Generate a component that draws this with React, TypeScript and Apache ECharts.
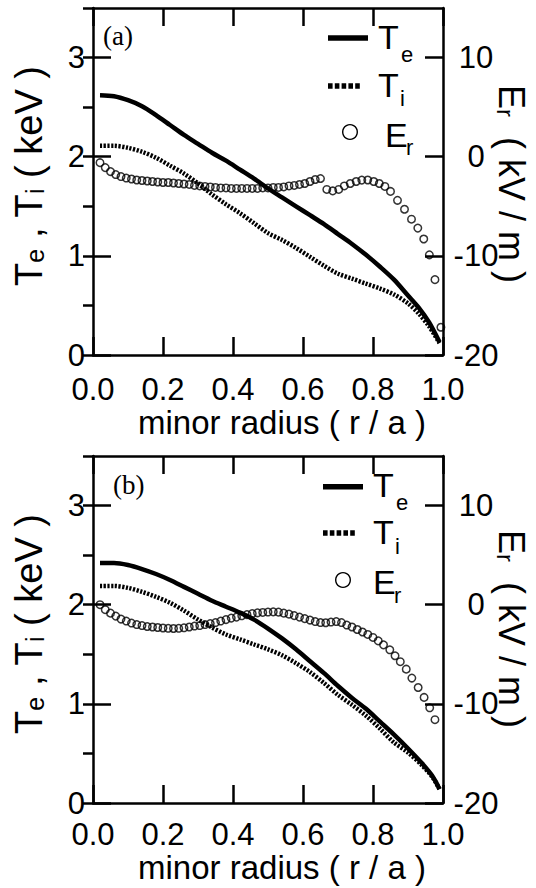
import React, { useEffect, useRef } from "react";
import * as echarts from "echarts";

const SANS = "Liberation Sans, Arial, Helvetica, sans-serif";
const SERIF = "Liberation Serif, Times New Roman, serif";

// ---------- Panel (a) ----------
const rTA = [0.02, 0.06, 0.1, 0.14, 0.18, 0.22, 0.26, 0.3, 0.34, 0.38, 0.42, 0.46, 0.5, 0.54, 0.58, 0.62, 0.66, 0.7, 0.74, 0.78, 0.82, 0.86, 0.9, 0.93, 0.96, 0.99];
const teA = [2.62, 2.61, 2.57, 2.51, 2.42, 2.32, 2.22, 2.13, 2.04, 1.96, 1.87, 1.78, 1.68, 1.59, 1.5, 1.41, 1.32, 1.22, 1.12, 1.01, 0.89, 0.76, 0.6, 0.48, 0.33, 0.13];
const tiA = [2.11, 2.11, 2.09, 2.05, 1.99, 1.91, 1.83, 1.73, 1.62, 1.52, 1.43, 1.33, 1.23, 1.16, 1.08, 0.99, 0.9, 0.82, 0.77, 0.72, 0.67, 0.61, 0.52, 0.42, 0.29, 0.12];
const rErA = [0.02, 0.035, 0.05, 0.065, 0.08, 0.095, 0.11, 0.125, 0.14, 0.155, 0.17, 0.185, 0.2, 0.215, 0.23, 0.245, 0.26, 0.275, 0.29, 0.305, 0.32, 0.335, 0.35, 0.365, 0.38, 0.395, 0.41, 0.425, 0.44, 0.455, 0.47, 0.485, 0.5, 0.515, 0.53, 0.545, 0.56, 0.575, 0.59, 0.605, 0.62, 0.635, 0.65, 0.668, 0.685, 0.702, 0.718, 0.735, 0.752, 0.768, 0.785, 0.802, 0.818, 0.834, 0.85, 0.87, 0.89, 0.91, 0.928, 0.945, 0.961, 0.977, 0.994];
const erA = [-0.6, -1.1, -1.5, -1.8, -2.0, -2.15, -2.25, -2.35, -2.4, -2.45, -2.5, -2.55, -2.6, -2.6, -2.65, -2.7, -2.75, -2.8, -2.9, -2.95, -3.0, -3.05, -3.1, -3.15, -3.15, -3.2, -3.2, -3.2, -3.2, -3.2, -3.2, -3.15, -3.15, -3.1, -3.1, -3.05, -2.95, -2.9, -2.8, -2.7, -2.5, -2.3, -2.2, -3.3, -3.45, -3.3, -2.95, -2.7, -2.5, -2.36, -2.35, -2.5, -2.7, -3.0, -3.5, -4.4, -5.3, -6.3, -7.2, -8.3, -9.9, -12.4, -17.2];

// ---------- Panel (b) ----------
const rTB = [0.02, 0.06, 0.1, 0.14, 0.18, 0.22, 0.26, 0.3, 0.34, 0.38, 0.42, 0.46, 0.5, 0.54, 0.58, 0.62, 0.66, 0.7, 0.74, 0.78, 0.82, 0.86, 0.9, 0.94, 0.97, 0.99];
const teB = [2.42, 2.42, 2.4, 2.36, 2.31, 2.25, 2.18, 2.11, 2.04, 1.98, 1.92, 1.85, 1.76, 1.66, 1.55, 1.43, 1.31, 1.18, 1.06, 0.95, 0.82, 0.69, 0.55, 0.4, 0.27, 0.14];
const tiB = [2.19, 2.19, 2.17, 2.13, 2.08, 2.02, 1.94, 1.85, 1.77, 1.7, 1.65, 1.6, 1.55, 1.49, 1.41, 1.32, 1.21, 1.09, 0.99, 0.88, 0.75, 0.61, 0.51, 0.38, 0.26, 0.14];
const rErB = [0.02, 0.035, 0.05, 0.065, 0.08, 0.095, 0.11, 0.125, 0.14, 0.155, 0.17, 0.185, 0.2, 0.215, 0.23, 0.245, 0.26, 0.275, 0.29, 0.305, 0.32, 0.335, 0.35, 0.365, 0.38, 0.395, 0.41, 0.425, 0.44, 0.455, 0.47, 0.485, 0.5, 0.515, 0.53, 0.545, 0.56, 0.575, 0.59, 0.605, 0.62, 0.635, 0.65, 0.665, 0.68, 0.695, 0.71, 0.725, 0.74, 0.755, 0.77, 0.785, 0.8, 0.815, 0.83, 0.848, 0.863, 0.878, 0.895, 0.911, 0.929, 0.946, 0.962, 0.977];
const erB = [0.0, -0.5, -0.85, -1.15, -1.45, -1.65, -1.85, -2.0, -2.1, -2.2, -2.25, -2.3, -2.35, -2.38, -2.4, -2.38, -2.33, -2.25, -2.15, -2.1, -2.0, -1.9, -1.8, -1.65, -1.5, -1.35, -1.25, -1.12, -1.0, -0.9, -0.82, -0.78, -0.74, -0.72, -0.75, -0.85, -0.95, -1.1, -1.25, -1.4, -1.55, -1.7, -1.8, -1.82, -1.75, -1.7, -1.8, -2.05, -2.25, -2.5, -2.75, -3.0, -3.3, -3.65, -4.05, -4.55, -5.15, -5.75, -6.5, -7.4, -8.35, -9.35, -10.4, -11.6];

// ---------- Axes ----------
const xTickStep = 0.2;
const leftRange = [0, 3.5];
const rightRange = [-20, 15];

const GRID_TOPS = [8, 456];
const PLOT_LEFT = 93;
const PLOT_W = 350;
const PLOT_H = 347;

const pairs = (xs: number[], ys: number[]) => xs.map((x, i) => [x, ys[i]]);

const BLACK = "#000";
const axisLine = { show: true, onZero: false, lineStyle: { color: BLACK, width: 2.5 } };
const tickStyle = { color: BLACK, width: 2.5 };
const TICK_FONT = 31;

export default function App() {
  const ref = useRef<HTMLDivElement>(null);
  useEffect(() => {
    document.body.style.margin = "0";
    const chart = echarts.init(ref.current!, null, { renderer: "svg" });

    const grids: any[] = [];
    const xAxes: any[] = [];
    const yAxes: any[] = [];
    GRID_TOPS.forEach((top) => grids.push({ left: PLOT_LEFT, top, width: PLOT_W, height: PLOT_H, containLabel: false }));
    GRID_TOPS.forEach((top) => grids.push({ left: PLOT_LEFT, top, width: PLOT_W, height: PLOT_H, containLabel: false }));

    [0, 1].forEach((g) => {
      xAxes.push({
        type: "value", gridIndex: g, position: "bottom", min: 0, max: 1, interval: xTickStep,
        axisLine, axisTick: { show: true, inside: true, length: 18, lineStyle: tickStyle },
        axisLabel: { show: true, margin: g === 0 ? 22 : 19, fontSize: TICK_FONT, lineHeight: 24, color: BLACK, fontFamily: SANS, formatter: (v: number) => v.toFixed(1) },
        splitLine: { show: false },
      });
      xAxes.push({
        type: "value", gridIndex: g, position: "top", min: 0, max: 1, interval: xTickStep,
        axisLine, axisTick: { show: true, inside: true, length: 18, lineStyle: tickStyle },
        axisLabel: { show: false }, splitLine: { show: false },
      });
      yAxes.push({
        type: "value", gridIndex: g, position: "left", min: leftRange[0], max: leftRange[1], interval: 1,
        axisLine, axisTick: { show: true, inside: true, length: 18, lineStyle: tickStyle },
        axisLabel: { show: true, margin: 8, fontSize: TICK_FONT, lineHeight: 24, color: BLACK, fontFamily: SANS, showMaxLabel: false },
        splitLine: { show: false },
      });
      yAxes.push({
        type: "value", gridIndex: g, position: "right", min: rightRange[0], max: rightRange[1], interval: 10,
        axisLine, axisTick: { show: true, inside: true, length: 18, lineStyle: tickStyle },
        axisLabel: { show: true, margin: 33, align: "center", fontSize: TICK_FONT, lineHeight: 24, color: BLACK, fontFamily: SANS, showMaxLabel: false },
        splitLine: { show: false },
      });
    });
    [2, 3].forEach((g) => {
      xAxes.push({ type: "value", gridIndex: g, min: 0, max: 1, show: false });
      yAxes.push({
        type: "value", gridIndex: g, position: "right", min: rightRange[0], max: rightRange[1], interval: 5,
        axisLine: { show: false }, axisTick: { show: true, inside: true, length: 10, lineStyle: tickStyle },
        axisLabel: { show: false }, splitLine: { show: false },
      });
    });

    const lineSeries = (name: string, data: number[][], xi: number, yi: number, dashed: boolean) => ({
      name, type: "line", xAxisIndex: xi, yAxisIndex: yi, data, showSymbol: false, symbol: "none", smooth: 0.3,
      lineStyle: { color: BLACK, width: 4.5, type: dashed ? [2.2, 1.5] : "solid", cap: "butt" },
      z: 2,
    });
    const scatterSeries = (name: string, data: number[][], xi: number, yi: number) => ({
      name, type: "scatter", xAxisIndex: xi, yAxisIndex: yi, data, symbol: "circle", symbolSize: 7.5,
      itemStyle: { color: "rgba(255,255,255,0)", borderColor: BLACK, borderWidth: 1.5 },
      z: 3,
    });

    const series = [
      lineSeries("Te a", pairs(rTA, teA), 0, 0, false),
      lineSeries("Ti a", pairs(rTA, tiA), 0, 0, true),
      scatterSeries("Er a", pairs(rErA, erA), 0, 1),
      lineSeries("Te b", pairs(rTB, teB), 2, 2, false),
      lineSeries("Ti b", pairs(rTB, tiB), 2, 2, true),
      scatterSeries("Er b", pairs(rErB, erB), 2, 3),
    ];

    const richSub = (mainSize: number, subSize: number, pad: number, padLeft = 0) => ({
      m: { fontSize: mainSize, fontFamily: SANS, fill: BLACK },
      s: { fontSize: subSize, fontFamily: SANS, fill: BLACK, padding: [pad, 0, 0, padLeft] },
    });
    const rich = (x: number, y: number, text: string, r: any, rotation: number) => ({
      type: "text", x, y, rotation,
      style: { text, rich: r, align: "center", verticalAlign: "middle", textAlign: "center", textVerticalAlign: "middle", fill: BLACK },
    });
    const plain = (x: number, y: number, text: string, size: number, family = SANS, align = "left", lineHeight?: number) => ({
      type: "text", x, y,
      style: { text, font: `${size}px ${family}`, fill: BLACK, align, verticalAlign: "middle", textAlign: align, textVerticalAlign: "middle", lineHeight: lineHeight ?? size },
    });

    const graphics: any[] = [];
    const panel = (p: any) => {
      graphics.push(plain(p.lab[0], p.lab[1], p.label, 27, SERIF));
      graphics.push(rich(29, p.leftTitleY, "{m|T}{s|e}{m| , T}{s|i}{m| ( keV )}", richSub(38, 25, 12), Math.PI / 2));
      graphics.push(rich(511, p.rightTitleY, "{m|E}{s|r}{m|  ( kV / m )}", richSub(36, 24, 12), -Math.PI / 2));
      graphics.push(plain(282, p.xTitleY, "minor radius ( r / a )", 33, SANS, "center", 26));
      // legend marks
      graphics.push({ type: "line", shape: { x1: p.lx, y1: p.te[0], x2: p.lx + 40, y2: p.te[0] }, style: { stroke: BLACK, lineWidth: 5.5 } });
      graphics.push({ type: "line", shape: { x1: p.lx, y1: p.ti[0], x2: p.lx + 34, y2: p.ti[0] }, style: { stroke: BLACK, lineWidth: 5.5, lineDash: [4.6, 2.2] } });
      graphics.push({ type: "circle", shape: { cx: p.cx, cy: p.er[0], r: 7.3 }, style: { fill: "none", stroke: BLACK, lineWidth: 1.4 } });
      // legend texts
      graphics.push(plain(p.tx, p.te[1], "T", 34));
      graphics.push(plain(p.tx + 23, p.te[2], "e", 22));
      graphics.push(plain(p.tx, p.ti[1], "T", 34));
      graphics.push(plain(p.tx + 22, p.ti[2], "i", 22));
      graphics.push(plain(p.ex, p.er[1], "E", 34));
      graphics.push(plain(p.ex + 21, p.er[2], "r", 22));
    };
    panel({ label: "(a)", lab: [103, 36], leftTitleY: 176, rightTitleY: 184, xTitleY: 422, lx: 328, te: [38, 37, 54], ti: [86, 84.5, 98.5], er: [132, 134.5, 147.5], cx: 350, tx: 378, ex: 385 });
    panel({ label: "(b)", lab: [113, 485], leftTitleY: 624, rightTitleY: 629, xTitleY: 867, lx: 323, te: [486.7, 485, 502], ti: [533, 531.5, 546], er: [580, 582, 595], cx: 343, tx: 373, ex: 373 });

    chart.setOption({
      animation: false,
      backgroundColor: "#fff",
      grid: grids,
      xAxis: xAxes,
      yAxis: yAxes,
      series,
      graphic: graphics,
    });
    return () => chart.dispose();
  }, []);
  return <div ref={ref} style={{ width: 536, height: 888 }} />;
}
